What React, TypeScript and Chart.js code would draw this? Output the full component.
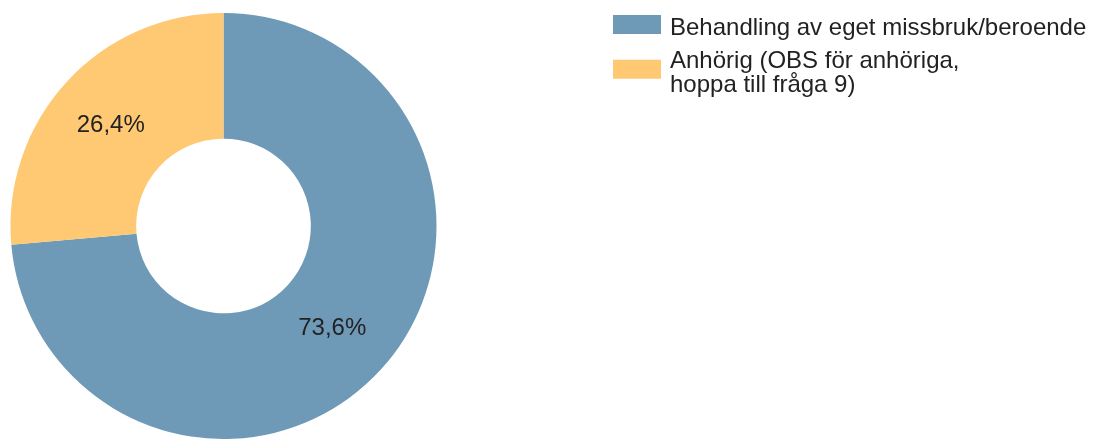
import React, { useEffect, useRef } from "react";
import { Chart, registerables } from "chart.js";

Chart.register(...registerables);

const categories: string[][] = [
  ["Behandling av eget missbruk/beroende"],
  ["Anhörig (OBS för anhöriga,", "hoppa till fråga 9)"],
];
const values: number[] = [73.6, 26.4];
const valueLabels: string[] = ["73,6%", "26,4%"];
const colors: string[] = ["#6e9ab8", "#ffc973"];

const FONT = "24px 'Liberation Sans', Arial, sans-serif";

const labelPlugin = {
  id: "sliceLabels",
  afterDatasetsDraw(chart: any) {
    const ctx = chart.ctx;
    const meta = chart.getDatasetMeta(0);
    ctx.save();
    ctx.font = FONT;
    ctx.fillStyle = "#222222";
    ctx.textAlign = "center";
    ctx.textBaseline = "middle";
    meta.data.forEach((arc: any, i: number) => {
      const p = arc.tooltipPosition();
      ctx.fillText(valueLabels[i], p.x - 2, p.y + 1);
    });
    ctx.restore();
  },
};

const legendPlugin = {
  id: "customLegend",
  afterDraw(chart: any) {
    const ctx = chart.ctx;
    const bg = chart.data.datasets[0].backgroundColor as string[];
    const labels = chart.data.labels as string[][];
    ctx.save();
    ctx.font = FONT;
    ctx.textAlign = "left";
    ctx.textBaseline = "alphabetic";
    const boxX = 613;
    const boxW = 48;
    const boxH = 19;
    const textX = 670;
    const lineH = 23.5;
    let top = 15;
    labels.forEach((lines, i) => {
      const n = lines.length;
      const blockH = boxH + (n - 1) * lineH;
      const boxY = top + (blockH - boxH) / 2;
      ctx.fillStyle = bg[i];
      ctx.fillRect(boxX, boxY, boxW, boxH);
      ctx.fillStyle = "#222222";
      const firstBaseline = top + 20;
      lines.forEach((line, j) => {
        ctx.fillText(line, textX, firstBaseline + j * lineH);
      });
      top += blockH + 14;
    });
    ctx.restore();
  },
};

export default function App() {
  const ref = useRef<HTMLCanvasElement | null>(null);
  useEffect(() => {
    if (!ref.current) return;
    const chart = new Chart(ref.current, {
      type: "doughnut",
      data: {
        labels: categories as any,
        datasets: [
          {
            data: values,
            backgroundColor: colors,
            borderWidth: 0,
          },
        ],
      },
      options: {
        animation: false,
        responsive: true,
        maintainAspectRatio: false,
        cutout: "41%",
        rotation: 0,
        layout: { padding: { left: 10, right: 661, top: 13, bottom: 0 } },
        plugins: {
          legend: { display: false },
          tooltip: { enabled: false },
        },
      },
      plugins: [labelPlugin, legendPlugin],
    });
    return () => chart.destroy();
  }, []);
  return (
    <div
      style={{
        position: "fixed",
        left: 0,
        top: 0,
        width: 1098,
        height: 439,
        background: "#ffffff",
      }}
    >
      <canvas ref={ref} />
    </div>
  );
}
